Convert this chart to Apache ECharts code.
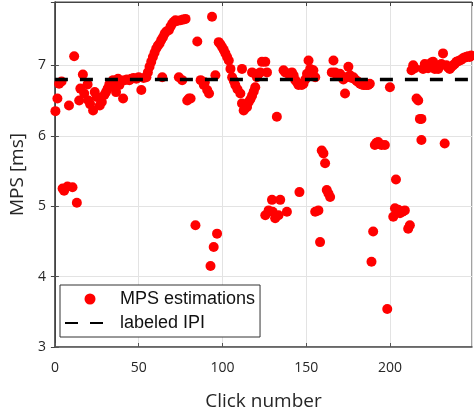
<!DOCTYPE html>
<html>
<head>
<meta charset="utf-8">
<script src="https://cdn.jsdelivr.net/npm/echarts@6/dist/echarts.min.js"></script>
<style>html,body{margin:0;padding:0;background:#fff}#c{width:474px;height:417px}</style>
</head>
<body>
<div id="c"></div>
<script>
const clickNumbers = [0.3,1.5,2.5,4,4.6,5.5,7.5,8.4,10.5,11.5,13.1,14.5,15.2,16.7,17.5,19.5,20,21,22.8,23.8,25,26.8,28,29.5,30.5,31.5,32.5,33.5,34.7,35.7,36.5,37.7,38.5,40.7,41.5,43,44.5,45.6,47,48.6,50,51.6,53,54.6,55.5,56.5,57.5,58.5,59.5,60.5,61.5,62.5,63.5,64.1,64.5,65.5,66.5,68,69,70,71,72,73,74,75,76,76.5,78,79,80,81,83.9,85,87,88.9,89.5,90.9,92,92.9,93.8,94.8,95.8,96.8,97.8,98.8,99.8,100.8,101.8,102.8,103.8,104.8,105.8,106.8,107.7,109,110.7,111.7,111.7,112.7,113.7,114.7,115.7,116.7,117.7,117.7,118.7,119.6,120.6,121.6,122.6,123.6,125.6,125.6,126.6,127.6,129.6,130,131.5,132.5,133.5,134.5,136.5,137.5,138.5,139.5,141.5,142.5,143.5,144.5,145.4,146,147.4,148.4,149.5,150.5,151.4,152.4,153.4,154.3,155.4,155.4,157.3,158.3,159.3,160.3,161.3,162.3,163.3,164.3,165.3,166.3,167.3,168.5,170.2,171.2,172.2,173.2,174.2,175.2,176.2,177.2,178.2,179.2,180.2,181.2,182.2,183.1,184.1,185.1,186.1,187.1,188,189,190,191,192,193,194,195,197,198.4,200,202,203,203.6,205,206,207.5,208.9,210.9,211.9,212.9,213.9,214.9,215.9,216.9,217.9,218.8,218.8,219.8,220.8,221.8,222.8,223.8,224.8,225.8,226.8,227.8,228.8,229.8,230.7,231.7,232.7,233.7,234.7,235.7,236.7,237.7,238.7,239.7,240.7,241.7,242.6,243.6,244.6,245.6,246.6,247.6,248.6];
const mpsValues = [6.35,6.53,6.74,6.77,5.25,5.22,5.28,6.43,5.27,7.13,5.05,6.5,6.67,6.87,6.6,6.73,6.5,6.45,6.36,6.62,6.55,6.43,6.48,6.58,6.62,6.67,6.73,6.75,6.79,6.69,6.62,6.81,6.72,6.53,6.79,6.8,6.79,6.81,6.82,6.81,6.83,6.65,6.82,6.83,6.9,6.98,7.05,7.12,7.18,7.24,7.28,7.31,7.36,6.83,7.4,7.45,7.48,7.5,7.55,7.59,7.62,7.64,7.63,6.83,7.64,6.79,7.65,7.66,6.5,6.53,6.53,4.73,7.34,6.79,6.72,6.76,6.65,6.6,4.15,7.69,4.42,6.86,4.61,7.33,7.3,7.26,7.22,7.17,7.12,7.07,6.95,6.83,6.78,6.72,6.66,6.6,6.95,6.46,6.36,6.39,6.41,6.48,6.52,6.57,6.9,6.63,6.69,6.83,6.88,6.9,7.05,7.05,4.87,6.9,4.94,5.09,4.92,4.83,6.27,4.87,5.09,6.93,6.9,4.92,6.88,6.9,6.86,6.79,6.76,6.72,5.2,6.72,6.74,6.8,6.88,7.07,6.95,6.9,6.93,6.83,4.92,4.94,4.49,5.79,5.75,5.61,5.23,5.18,5.13,6.9,7.07,6.9,6.85,6.88,6.85,6.8,6.6,6.83,6.98,6.86,6.82,6.83,6.8,6.78,6.76,6.74,6.73,6.72,6.72,6.72,6.72,6.74,4.21,4.64,5.87,5.9,5.91,5.88,5.87,5.87,3.54,6.69,4.85,4.97,5.38,4.95,4.9,4.92,4.94,4.68,4.73,6.93,7.0,6.96,6.53,6.5,6.24,6.24,5.94,6.95,7.02,6.98,6.96,7.02,7.04,7.05,6.95,6.97,6.95,7.0,7.02,7.17,5.89,7.0,6.97,6.95,6.98,7.0,7.02,7.05,7.06,7.07,7.08,7.1,7.11,7.12,7.13,7.12,7.14];
const ipiClicks = [0, 249];
const ipiLevel = [6.8, 6.8];
const xTicks = [0, 50, 100, 150, 200];
const yTicks = [3, 4, 5, 6, 7];

const scatterData = clickNumbers.map((x, i) => [x, mpsValues[i]]);
const ipiData = ipiClicks.map((x, i) => [x, ipiLevel[i]]);

const chart = echarts.init(document.getElementById('c'), null, {renderer: 'canvas'});
const font = 'Open Sans, Noto Sans, sans-serif';
chart.setOption({
  animation: false,
  backgroundColor: '#fff',
  grid: {left: 54, right: 2, top: 2, bottom: 70, show: true, borderColor: '#444', borderWidth: 1},
  legend: {
    orient: 'vertical', left: 60, top: 285,
    backgroundColor: '#fff', borderColor: '#333', borderWidth: 1,
    padding: [5, 5, 5, 4], itemGap: 6, itemWidth: 50, itemHeight: 11,
    textStyle: {fontFamily: 'Liberation Sans, Arial, sans-serif', fontSize: 18, color: '#111'},
    data: ['MPS estimations', {name: 'labeled IPI', itemStyle: {opacity: 0}}]
  },
  xAxis: [{
    type: 'value', min: 0, max: 249, interval: 50,
    name: 'Click number', nameLocation: 'middle', nameGap: 45,
    nameTextStyle: {fontFamily: font, fontSize: 19, color: '#262626'},
    axisLine: {show: true, lineStyle: {color: '#555', width: 1.5}},
    axisTick: {show: true, inside: true, length: 4, lineStyle: {color: '#555'}},
    axisLabel: {fontFamily: font, fontSize: 14, color: '#262626', margin: 14, showMaxLabel: false,
      formatter: v => xTicks.includes(v) ? String(v) : ''},
    splitLine: {show: true, lineStyle: {color: '#e3e3e3', width: 1}}
  }, {
    type: 'value', min: 0, max: 249, interval: 50, position: 'top',
    axisLine: {show: true, lineStyle: {color: '#444'}},
    axisTick: {show: true, inside: true, length: 4, lineStyle: {color: '#444'}},
    axisLabel: {show: false}, splitLine: {show: false}
  }],
  yAxis: [{
    type: 'value', min: 3, max: 7.9, interval: 1,
    name: 'MPS [ms]', nameLocation: 'middle', nameGap: 26,
    nameTextStyle: {fontFamily: font, fontSize: 19, color: '#262626'},
    axisLine: {show: true, lineStyle: {color: '#555', width: 1.5}},
    axisTick: {show: true, inside: true, length: 4, lineStyle: {color: '#555'}},
    axisLabel: {fontFamily: font, fontSize: 14, color: '#262626', margin: 9, showMaxLabel: false,
      formatter: v => yTicks.includes(v) ? String(v) : ''},
    splitLine: {show: true, lineStyle: {color: '#e3e3e3', width: 1}}
  }, {
    type: 'value', min: 3, max: 7.9, interval: 1, position: 'right',
    axisLine: {show: true, lineStyle: {color: '#444'}},
    axisTick: {show: true, inside: true, length: 4, lineStyle: {color: '#444'}},
    axisLabel: {show: false}, splitLine: {show: false}
  }],
  series: [{
    name: 'MPS estimations', type: 'scatter', xAxisIndex: 0, yAxisIndex: 0,
    symbol: 'circle', symbolSize: 10,
    itemStyle: {color: '#ff0000', opacity: 1},
    data: scatterData, z: 2
  }, {
    name: 'labeled IPI', type: 'line', xAxisIndex: 0, yAxisIndex: 0,
    symbol: 'none', showSymbol: false,
    lineStyle: {color: '#000', width: 3.5, type: [13, 12]},
    itemStyle: {color: '#000'},
    data: ipiData, z: 3
  }]
});
</script>
</body>
</html>
